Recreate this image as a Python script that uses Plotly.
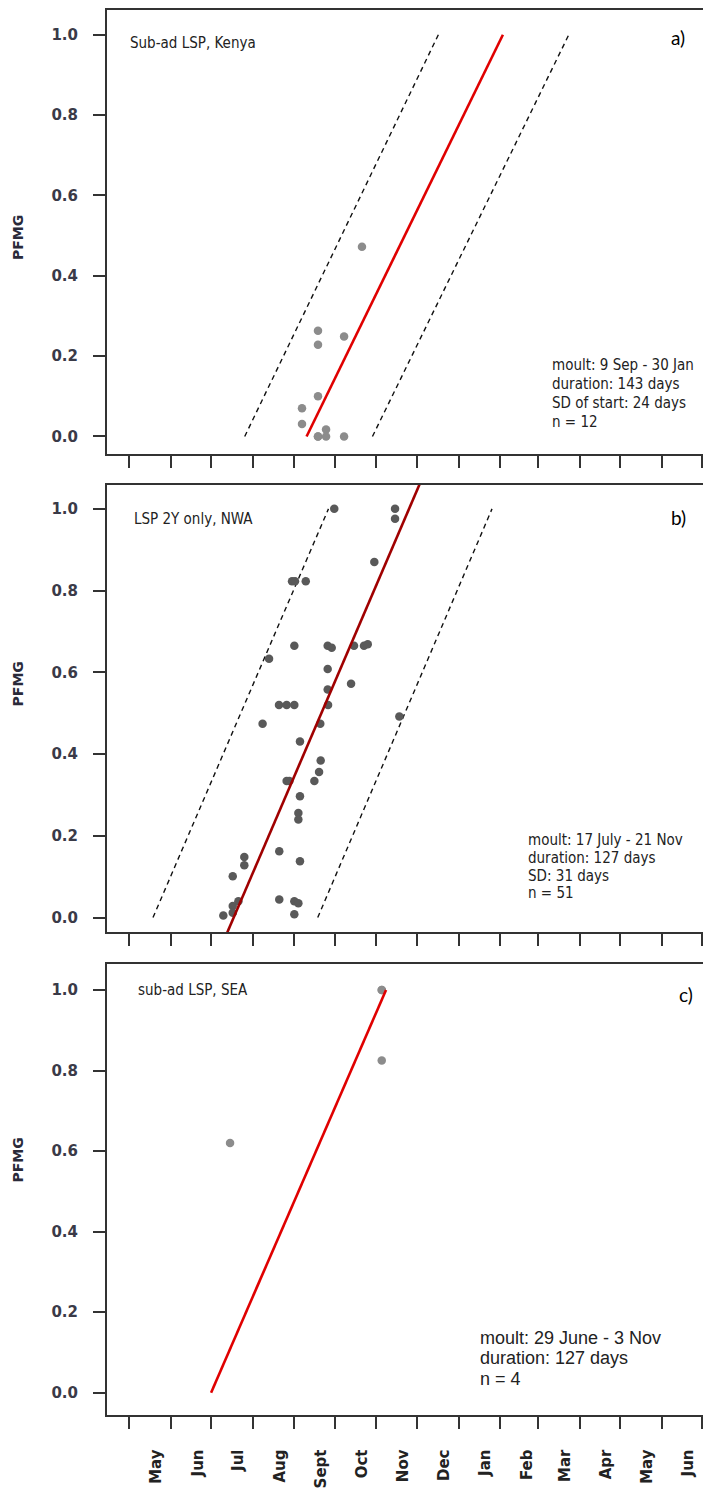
import plotly.graph_objects as go

# ---------------- data (x = days since 1 May) ----------------
month_starts = [0, 31, 61, 92, 123, 153, 184, 214, 245, 276, 304, 335, 365, 396, 426]
month_labels = ["May", "Jun", "Jul", "Aug", "Sept", "Oct", "Nov", "Dec", "Jan",
                "Feb", "Mar", "Apr", "May", "Jun"]
y_ticks = [0.0, 0.2, 0.4, 0.6, 0.8, 1.0]

# Panel a: Sub-ad LSP, Kenya
a_pts_x = [128.6, 128.6, 140.5, 140.5, 140.5, 140.5, 140.5, 146.5, 146.5, 159.9, 159.9, 173.2]
a_pts_y = [0.07, 0.031, 0.263, 0.228, 0.10, 0.0, 0.0, 0.017, 0.0, 0.249, 0.0, 0.472]
a_fit_x = [132, 278]
a_fit_y = [0, 1]
a_lo_x = [86, 230]
a_hi_x = [181, 327]
a_band_y = [0, 1]

# Panel b: LSP 2Y only, NWA
b_pts_x = [152.6, 197.8, 197.8, 182.4, 121.2, 123.4, 131.4, 122.9, 147.7, 150.7,
           167.3, 174.7, 177.5, 104.1, 147.7, 165.1, 147.7, 111.5, 117.2, 122.9,
           148.0, 201.0, 99.3, 142.2, 127.1, 142.5, 141.3, 137.8, 117.2, 119.2,
           127.1, 125.9, 125.9, 111.7, 127.1, 85.7, 85.7, 77.1, 81.3, 77.1,
           77.1, 70.1, 111.7, 122.9, 125.9, 122.9]
b_pts_y = [1.0, 1.0, 0.976, 0.87, 0.823, 0.823, 0.823, 0.665, 0.665, 0.66,
           0.665, 0.665, 0.669, 0.633, 0.608, 0.572, 0.558, 0.52, 0.52, 0.52,
           0.52, 0.492, 0.474, 0.474, 0.431, 0.384, 0.356, 0.334, 0.334, 0.334,
           0.297, 0.256, 0.240, 0.162, 0.138, 0.148, 0.128, 0.101, 0.040, 0.028,
           0.012, 0.005, 0.044, 0.040, 0.035, 0.008]
b_fit_x = [77.8, 208.2]
b_fit_y = [0, 1]
b_lo_x = [17.8, 148.3]
b_hi_x = [140.3, 269.9]
b_band_y = [0, 1]

# Panel c: sub-ad LSP, SEA
c_pts_x = [187.9, 187.9, 187.9, 75.1]
c_pts_y = [1.0, 1.0, 0.825, 0.62]
c_fit_x = [61.0, 191.1]
c_fit_y = [0, 1]

# ---------------- layout helpers ----------------
W, H = 703, 1488
def py(px):
    return 1 - px / H
def pxx(px):
    return px / W

X_RANGE = [-16.4, 426.8]
panels = [
    dict(top=10, bottom=458, y0px=440, unit=405),
    dict(top=489, bottom=940, y0px=925, unit=412),
    dict(top=972, bottom=1427, y0px=1404, unit=406),
]

AX = "#333333"
fig = go.Figure()

def add_line(x, y, color, width, dash, k):
    fig.add_trace(go.Scatter(x=x, y=y, mode="lines", xaxis="x" + ("" if k == 1 else str(k)),
                             yaxis="y" + ("" if k == 1 else str(k)),
                             line=dict(color=color, width=width, dash=dash),
                             hoverinfo="skip"))

def add_pts(x, y, color, k):
    fig.add_trace(go.Scatter(x=x, y=y, mode="markers", xaxis="x" + ("" if k == 1 else str(k)),
                             yaxis="y" + ("" if k == 1 else str(k)),
                             marker=dict(color=color, size=8.5, line=dict(width=0)),
                             cliponaxis=False, hoverinfo="skip"))

DASH = "5px,4px"
# panel a
add_line(a_lo_x, a_band_y, "#111111", 1.4, DASH, 1)
add_line(a_hi_x, a_band_y, "#111111", 1.4, DASH, 1)
add_pts(a_pts_x, a_pts_y, "#8c8c8c", 1)
add_line(a_fit_x, a_fit_y, "#e00000", 2.6, "solid", 1)

# panel b (fit line extended across the panel)
slope = (b_fit_x[1] - b_fit_x[0]) / (b_fit_y[1] - b_fit_y[0])
b_ext_y = [-0.2, 1.2]
b_ext_x = [b_fit_x[0] + (v - b_fit_y[0]) * slope for v in b_ext_y]
add_line(b_lo_x, b_band_y, "#111111", 1.4, DASH, 2)
add_line(b_hi_x, b_band_y, "#111111", 1.4, DASH, 2)
add_pts(b_pts_x, b_pts_y, "#595959", 2)
add_line(b_ext_x, b_ext_y, "#a00000", 2.6, "solid", 2)

# panel c
add_pts(c_pts_x, c_pts_y, "#8c8c8c", 3)
add_line(c_fit_x, c_fit_y, "#e00000", 2.6, "solid", 3)

layout = dict(width=W, height=H, margin=dict(l=0, r=0, t=0, b=0),
              paper_bgcolor="white", plot_bgcolor="white", showlegend=False)

for i, p in enumerate(panels):
    k = i + 1
    sfx = "" if k == 1 else str(k)
    ylo = (p["y0px"] - p["bottom"]) / p["unit"]
    yhi = (p["y0px"] - p["top"]) / p["unit"]
    layout["yaxis" + sfx] = dict(
        domain=[py(p["bottom"]), py(p["top"])], range=[ylo, yhi], anchor="x" + sfx,
        tickvals=y_ticks, ticktext=["<b>%.1f</b>" % v for v in y_ticks],
        ticks="outside", ticklen=12, tickwidth=2, tickcolor=AX,
        showline=True, linecolor=AX, linewidth=2, mirror=False,
        showgrid=False, zeroline=False, ticklabelstandoff=12,
        tickfont=dict(family="DejaVu Sans", size=15, color="#3a3a48"))
    xa = dict(domain=[pxx(107), 1.0], range=X_RANGE, anchor="y" + sfx,
              showline=True, linecolor=AX, linewidth=2, mirror=True,
              showgrid=False, zeroline=False)
    if k < 3:
        xa.update(tickvals=month_starts, ticks="outside", ticklen=12, tickwidth=2,
                  tickcolor=AX, showticklabels=False)
    else:
        label_pos = [m + 20 for m in month_starts[:len(month_labels)]]
        xa.update(tickvals=label_pos, ticktext=["<b>%s</b>" % m for m in month_labels],
                  ticks="", tickangle=-90, ticklabelstandoff=26,
                  tickfont=dict(family="DejaVu Sans", size=15, color="#222222"),
                  minor=dict(tickvals=month_starts, ticks="outside", ticklen=12,
                             tickwidth=2, tickcolor=AX))
    layout["xaxis" + sfx] = xa

NARROW = "Liberation Sans Narrow, DejaVu Sans Condensed, Liberation Sans"
ann = []
def text(x, y, s, size, family=NARROW, xanchor="left", color="#222222", angle=0):
    ann.append(dict(x=pxx(x), y=py(y), xref="paper", yref="paper", text=s,
                    showarrow=False, xanchor=xanchor, yanchor="middle",
                    textangle=angle,
                    font=dict(family=family, size=size, color=color)))

text(128, 43, "Sub-ad LSP, Kenya", 15)
text(132, 523, "LSP 2Y only, NWA", 15)
text(136, 998, "sub-ad LSP, SEA", 15)
for j, s in enumerate(["moult: 9 Sep - 30 Jan", "duration: 143 days",
                       "SD of start: 24 days", "n = 12"]):
    text(550, [368, 387, 406, 425][j], s, 15)
for j, s in enumerate(["moult: 17 July - 21 Nov", "duration: 127 days",
                       "SD: 31 days", "n = 51"]):
    text(526, [847, 865, 883, 900][j], s, 15)
for j, s in enumerate(["moult: 29 June - 3 Nov", "duration: 127 days", "n = 4"]):
    text(478, [1349, 1369, 1390][j], s, 18, family="Liberation Sans")
text(678, 38, "a)", 19, family="Lato", xanchor="center", color="black")
text(678, 522, "b)", 19, family="Lato", xanchor="center", color="black")
text(686, 1003, "c)", 19, family="Lato", xanchor="center", color="black")
for yc in [240, 690, 1170]:
    text(18, yc, "<b>PFMG</b>", 14, family="DejaVu Sans", xanchor="center",
         color="#2a2a3a", angle=-90)

layout["annotations"] = ann
fig.update_layout(**layout)
fig.write_html("out.html")
